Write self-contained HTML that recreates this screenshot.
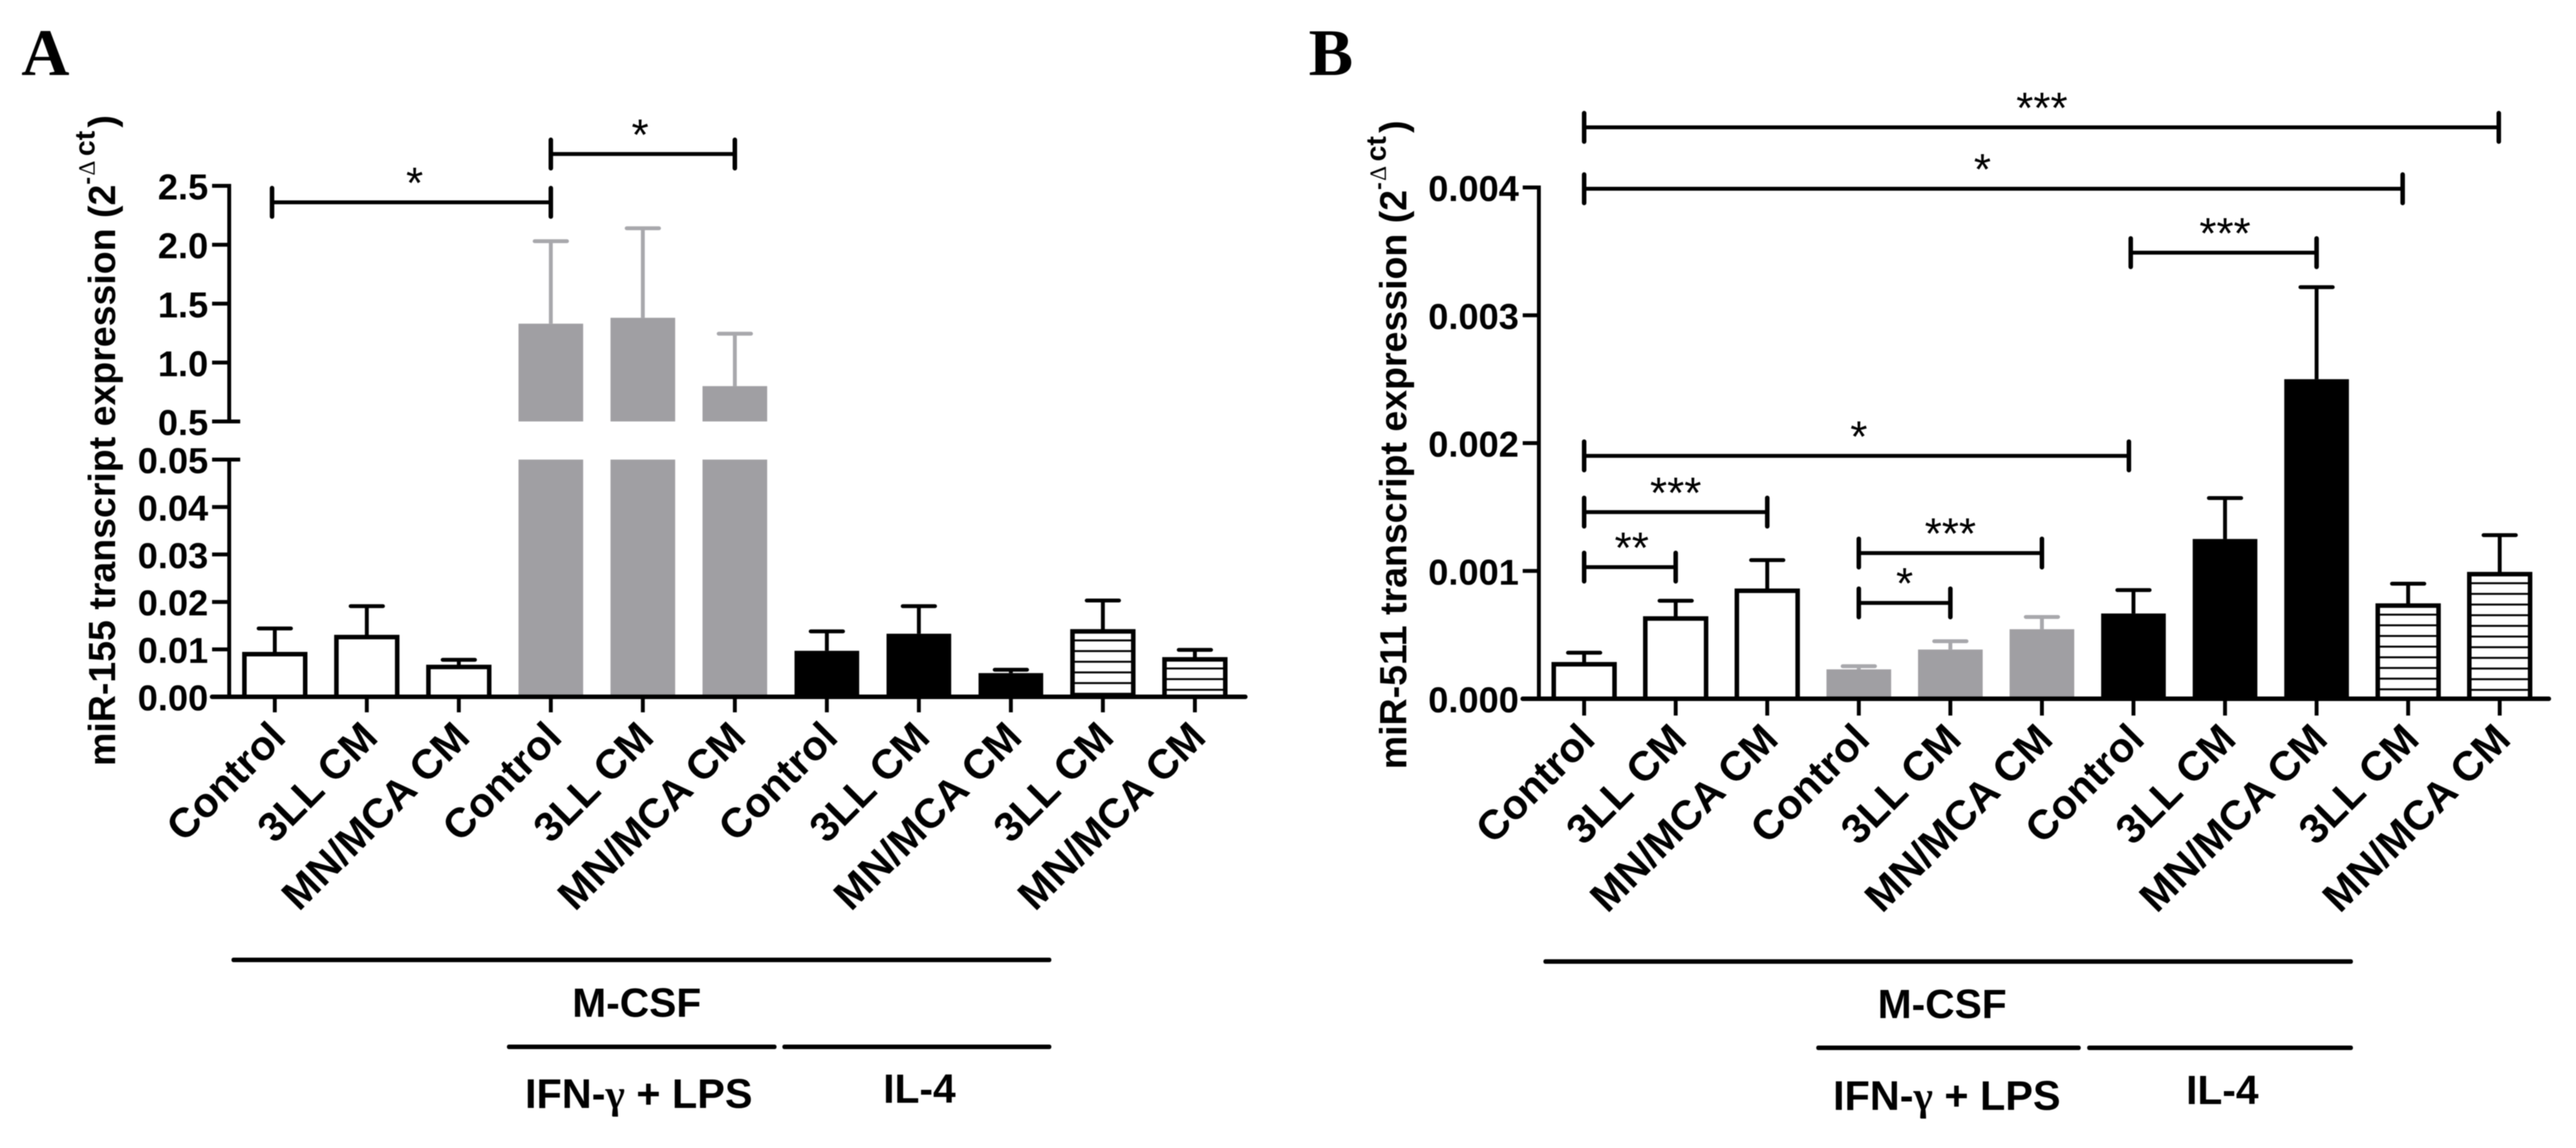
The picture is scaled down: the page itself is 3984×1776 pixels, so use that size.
<!DOCTYPE html>
<html>
<head>
<meta charset="utf-8">
<style>
html,body{margin:0;padding:0;background:#fff;}
svg{display:block;filter:blur(0.7px);}
text{font-family:"Liberation Sans",sans-serif;font-weight:bold;fill:#000;}
</style>
</head>
<body>
<svg id="figure" xmlns="http://www.w3.org/2000/svg" width="3984" height="1776" viewBox="0 0 3984 1776">
<rect width="3984" height="1776" fill="#fff"/>
<text x="33" y="116" font-size="103" style="font-family:'Liberation Serif',serif">A</text>
<text x="2024" y="116" font-size="103" style="font-family:'Liberation Serif',serif">B</text>
<text transform="translate(178,1185) rotate(-90)" font-size="58">miR-155 transcript expression (2<tspan dy="-32" font-size="36">-</tspan><tspan dx="2" font-size="36" style="font-family:'Liberation Serif',serif;font-weight:normal">Δ</tspan><tspan dx="7" font-size="44">ct</tspan><tspan dy="32" dx="5">)</tspan></text>
<text transform="translate(2175,1190) rotate(-90)" font-size="58">miR-511 transcript expression (2<tspan dy="-32" font-size="36">-</tspan><tspan dx="2" font-size="36" style="font-family:'Liberation Serif',serif;font-weight:normal">Δ</tspan><tspan dx="7" font-size="44">ct</tspan><tspan dy="32" dx="5">)</tspan></text>
<g>
<rect x="358" y="1481.5" width="1268" height="7" rx="3"/>
<text x="885" y="1573" font-size="63">M-CSF</text>
<rect x="784" y="1616" width="417" height="7" rx="3"/>
<rect x="1210" y="1616" width="416" height="7" rx="3"/>
<text x="812" y="1714" font-size="64">IFN-<tspan style="font-family:'Liberation Serif',serif">γ</tspan> + LPS</text>
<text x="1366" y="1706" font-size="63">IL-4</text>
</g>
<g>
<rect x="2387" y="1484" width="1252" height="7" rx="3"/>
<text x="2904" y="1575" font-size="63">M-CSF</text>
<rect x="2809" y="1617.5" width="409" height="7" rx="3"/>
<rect x="3228" y="1617.5" width="411" height="7" rx="3"/>
<text x="2835" y="1717" font-size="64">IFN-<tspan style="font-family:'Liberation Serif',serif">γ</tspan> + LPS</text>
<text x="3381" y="1708" font-size="63">IL-4</text>
</g>
</svg>
<script>
const categories = ['Control','3LL CM','MN/MCA CM','Control','3LL CM','MN/MCA CM','Control','3LL CM','MN/MCA CM','3LL CM','MN/MCA CM'];
const barGroups = ['open','open','open','gray','gray','gray','solid','solid','solid','hatch','hatch'];

const meansA = [0.0094,0.013,0.0067,1.33,1.38,0.80,0.0097,0.0133,0.005,0.0142,0.0083];
const errorsA = [0.005,0.0061,0.0011,0.70,0.76,0.445,0.0041,0.0058,0.0007,0.0061,0.0016];
const ticksLowerA = ['0.00','0.01','0.02','0.03','0.04','0.05'];
const ticksUpperA = ['0.5','1.0','1.5','2.0','2.5'];

const meansB = [0.000285,0.000643,0.00086,0.00023,0.000385,0.000544,0.000667,0.00125,0.0025,0.000744,0.00099];
const errorsB = [0.000075,0.000124,0.000225,0.000025,0.000065,0.000096,0.000183,0.00032,0.00072,0.000156,0.00029];
const ticksB = ['0.000','0.001','0.002','0.003','0.004'];

const bracketFromA = [-0.03,3];
const bracketToA = [3,5];
const bracketLevelA = [2.36,2.77];
const bracketStarAtA = [1.52,3.97];
const bracketStarsA = ['*','*'];

const bracketFromB = [0,0,5.97,0,0,0,3,3];
const bracketToB = [9.99,8.94,8,5.95,2,1,5,4];
const bracketLevelB = [0.00447,0.00399,0.00349,0.00190,0.00146,0.00103,0.00114,0.00075];
const bracketStarAtB = [5,4.35,7,3,1,0.52,4,3.5];
const bracketStarsB = ['***','*','***','*','***','**','***','*'];

const svg = document.getElementById('figure');
const NS = 'http://www.w3.org/2000/svg';
function mk(tag, attrs) {
  const el = document.createElementNS(NS, tag);
  for (const k in attrs) el.setAttribute(k, attrs[k]);
  svg.appendChild(el);
  return el;
}
const GRAY = '#a09fa3', GRAY_ERR = '#a8a8ac';

const xA = i => 425 + 142.3 * i;
const xB = i => 2450 + 141.6 * i;
function yA(v) {
  if (v <= 0.05) return 1078 - (v / 0.05) * 367;
  return 652 - ((v - 0.5) / 2) * 364.5;
}
const yB = v => 1081 - (v / 0.004) * 791;

function drawBars(means, errors, x, y, baseY, isBroken) {
  means.forEach((m, i) => {
    const g = barGroups[i], cx = x(i), top = y(m), capY = y(m + errors[i]);
    const errColor = g === 'gray' ? GRAY_ERR : '#000';
    const stem = mk('line', {x1: cx, x2: cx, y1: top, y2: capY, stroke: errColor, 'stroke-width': 6});
    
    
    const cap = mk('line', {x1: cx - 25, x2: cx + 25, y1: capY, y2: capY, stroke: errColor, 'stroke-width': 6, 'stroke-linecap': 'round'});
    
    
    if (g === 'gray' || g === 'solid') {
      const fill = g === 'gray' ? GRAY : '#000';
      if (isBroken && m > 0.05) {
        const low = mk('rect', {x: cx - 50, y: y(0.05), width: 100, height: baseY - y(0.05), fill: fill});
        
        
        const up = mk('rect', {x: cx - 50, y: top, width: 100, height: y(0.5) - top, fill: fill});
        
        
      } else {
        const bar = mk('rect', {x: cx - 50, y: top, width: 100, height: baseY - top, fill: fill});
        
        
      }
    } else {
      const bar = mk('rect', {x: cx - 47, y: top + 3, width: 94, height: baseY - top - 3, fill: '#fff', stroke: '#000', 'stroke-width': 7});
      
      
      if (g === 'hatch') {
        for (let ly = top + 17; ly < baseY - 3; ly += 16.5) {
          const h = mk('line', {x1: cx - 47, x2: cx + 47, y1: ly, y2: ly, stroke: '#000', 'stroke-width': 3});
          
          
        }
      }
    }
  });
}

function drawXAxis(x, baseY, x0, x1, tickLen) {
  const axis = mk('line', {x1: x0, x2: x1, y1: baseY, y2: baseY, stroke: '#000', 'stroke-width': 7, 'stroke-linecap': 'round'});
  
  
  categories.forEach((c, i) => {
    const cx = x(i);
    const t = mk('line', {x1: cx, x2: cx, y1: baseY, y2: baseY + tickLen, stroke: '#000', 'stroke-width': 6});
    
    
    const l = mk('text', {transform: `translate(${cx + 20},${baseY + 66}) rotate(-45)`, 'text-anchor': 'end', 'font-size': 64});
    l.textContent = c;
    
    
  });
}

function drawYTicks(labels, y, axisX, tickX0, textX, extend) {
  labels.forEach(lab => {
    const v = parseFloat(lab), py = y(v);
    const t = mk('line', {x1: tickX0, x2: axisX + (extend(v) ? 17 : 0), y1: py, y2: py, stroke: '#000', 'stroke-width': 6});
    
    
    const l = mk('text', {x: textX, y: py + 21, 'text-anchor': 'end', 'font-size': 56});
    l.textContent = lab;
    
    
  });
}

function drawBrackets(from, to, levels, stars, starAt, x, y) {
  from.forEach((f, i) => {
    const x0 = x(f), x1 = x(to[i]), py = y(levels[i]);
    const h = mk('line', {x1: x0, x2: x1, y1: py, y2: py, stroke: '#000', 'stroke-width': 6});
    
    
    const c0 = mk('line', {x1: x0, x2: x0, y1: py - 22, y2: py + 22, stroke: '#000', 'stroke-width': 7, 'stroke-linecap': 'round'});
    
    
    const c1 = mk('line', {x1: x1, x2: x1, y1: py - 22, y2: py + 22, stroke: '#000', 'stroke-width': 7, 'stroke-linecap': 'round'});
    
    
    const s = mk('text', {x: x(starAt[i]), y: py - 7, 'text-anchor': 'middle', 'font-size': 68, style: 'font-weight:normal'});
    s.textContent = stars[i];
    
    
  });
}

/* Panel A */
drawBars(meansA, errorsA, xA, yA, 1078, true);
const aLow = mk('line', {x1: 354.5, x2: 354.5, y1: yA(0.05) - 3, y2: 1078, stroke: '#000', 'stroke-width': 6});


const aUp = mk('line', {x1: 354.5, x2: 354.5, y1: yA(2.5) - 3, y2: yA(0.5), stroke: '#000', 'stroke-width': 6});


drawYTicks(ticksLowerA, yA, 354.5, 328, 322, v => v === 0.05);
drawYTicks(ticksUpperA, yA, 354.5, 328, 322, v => v === 0.5);
drawXAxis(xA, 1078, 328, 1926, 24);
drawBrackets(bracketFromA, bracketToA, bracketLevelA, bracketStarsA, bracketStarAtA, xA, yA);

/* Panel B */
drawBars(meansB, errorsB, xB, yB, 1081, false);
const bAxis = mk('line', {x1: 2380, x2: 2380, y1: yB(0.004) - 3, y2: 1081, stroke: '#000', 'stroke-width': 6});


drawYTicks(ticksB, yB, 2380, 2355, 2349, v => false);
drawXAxis(xB, 1081, 2355, 3942, 26);
drawBrackets(bracketFromB, bracketToB, bracketLevelB, bracketStarsB, bracketStarAtB, xB, yB);
</script>
</body>
</html>
